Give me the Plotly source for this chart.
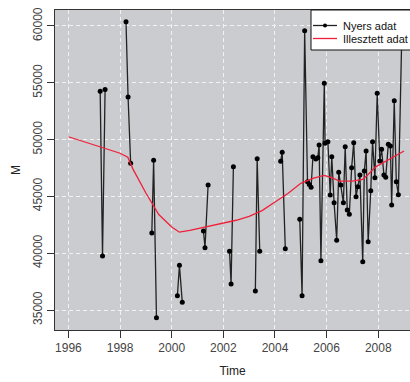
import plotly.graph_objects as go

# Raw data (Nyers adat): time (decimal year) and value; None separates gaps
raw_time = [
    1997.23, 1997.32, 1997.42, None,
    1998.23, 1998.31, 1998.41, None,
    1999.23, 1999.30, 1999.41, None,
    2000.22, 2000.30, 2000.41, None,
    2001.23, 2001.29, 2001.41, None,
    2002.24, 2002.30, 2002.39, None,
    2003.24, 2003.31, 2003.41, None,
    2004.22, 2004.28, 2004.40, None,
    2004.96, 2005.05, 2005.15, 2005.26, 2005.33, 2005.40,
    2005.47, 2005.58, 2005.66, 2005.71, 2005.78, 2005.91, 2005.94,
    2006.05, 2006.14, 2006.20, 2006.29, 2006.39, 2006.47, 2006.55,
    2006.65, 2006.72, 2006.80, 2006.88, 2006.97,
    2007.05, 2007.14, 2007.21, 2007.29, 2007.40, 2007.46, 2007.53,
    2007.61, 2007.71, 2007.78, 2007.87, 2007.96,
    2008.06, 2008.13, 2008.22, 2008.29, 2008.39, 2008.47, 2008.52,
    2008.62, 2008.70, 2008.78, 2008.91,
]
raw_value = [
    54250, 39750, 54400, None,
    60380, 53750, 47910, None,
    41780, 48180, 34320, None,
    36260, 38930, 35680, None,
    41950, 40480, 46000, None,
    40170, 37290, 47620, None,
    36670, 48320, 40170, None,
    48090, 48880, 40390, None,
    42990, 36260, 59590, 46300, 46050, 45800,
    48490, 48290, 48410, 49520, 39340, 54960, 49680,
    49820, 45120, 48490, 44450, 41140, 47120, 46000,
    44450, 49380, 43800, 43420, 47530,
    49730, 44970, 45850, 46880, 39250, 47240, 49000,
    41010, 45500, 49820, 46650, 54080,
    48120, 49150, 46880, 46680, 49590, 49440, 44240,
    53420, 46290, 45150, 59000,
]

# Fitted data (Illesztett adat)
fit_time = [1996.0, 1996.5, 1997.0, 1997.5, 1998.0, 1998.3, 1998.5, 1999.0,
            1999.5, 2000.0, 2000.3, 2000.7, 2001.2, 2001.7, 2002.0, 2002.5,
            2003.0, 2003.5, 2004.0, 2004.5, 2005.0, 2005.5, 2005.9, 2006.2,
            2006.5, 2007.0, 2007.4, 2007.6, 2007.9, 2008.3, 2008.7, 2009.0]
fit_value = [50250, 49900, 49560, 49200, 48800, 48450, 47400, 45300,
             43400, 42300, 41850, 42000, 42250, 42450, 42600, 42900,
             43250, 43750, 44500, 45250, 46150, 46600, 46850, 46650,
             46350, 46350, 46500, 46900, 47600, 48100, 48650, 49000]

x_ticks = [1996, 1998, 2000, 2002, 2004, 2006, 2008]
y_ticks = [35000, 40000, 45000, 50000, 55000, 60000]
legend_labels = ["Nyers adat", "Illesztett adat"]

RAW_COLOR = "#222222"
FIT_COLOR = "#f0203a"

fig = go.Figure()
fig.add_trace(go.Scatter(
    x=raw_time, y=raw_value, name=legend_labels[0], mode="lines+markers",
    connectgaps=False,
    line=dict(color=RAW_COLOR, width=1.3),
    marker=dict(color="#000000", size=5),
))
fig.add_trace(go.Scatter(
    x=fit_time, y=fit_value, name=legend_labels[1], mode="lines",
    line=dict(color=FIT_COLOR, width=1.3),
))

# Legend drawn R-style in the top-right corner (box runs off the right edge)
PL, PW, PT, PH = 55, 355, 10, 320  # plot area in pixels


def px(x):
    return (x - PL) / PW


def py(y):
    return 1 - (y - PT) / PH


shapes = [
    dict(type="rect", xref="paper", yref="paper", x0=px(311), x1=px(430),
         y0=py(50), y1=py(10), fillcolor="white",
         line=dict(color="#111111", width=1), layer="above"),
    dict(type="line", xref="paper", yref="paper", x0=px(313), x1=px(337),
         y0=py(25.5), y1=py(25.5), line=dict(color=RAW_COLOR, width=1.3), layer="above"),
    dict(type="circle", xref="paper", yref="paper", x0=px(323), x1=px(327),
         y0=py(27.5), y1=py(23.5), fillcolor="#000000",
         line=dict(color="#000000", width=0), layer="above"),
    dict(type="line", xref="paper", yref="paper", x0=px(313), x1=px(337),
         y0=py(38.5), y1=py(38.5), line=dict(color=FIT_COLOR, width=1.3), layer="above"),
]
annotations = [
    dict(xref="paper", yref="paper", x=px(341), y=py(25.5), text=legend_labels[0],
         showarrow=False, xanchor="left", yanchor="middle",
         font=dict(size=11, color="#111111")),
    dict(xref="paper", yref="paper", x=px(341), y=py(38.5), text=legend_labels[1],
         showarrow=False, xanchor="left", yanchor="middle",
         font=dict(size=11, color="#111111")),
]

axis_font = dict(family="Liberation Sans, Arial, sans-serif", size=12, color="#444444")
fig.update_layout(
    width=410, height=382,
    margin=dict(l=55, r=0, t=10, b=52),
    paper_bgcolor="white",
    plot_bgcolor="#cacccf",
    font=dict(family="Liberation Sans, Arial, sans-serif", size=12, color="#222222"),
    showlegend=False,
    shapes=shapes,
    annotations=annotations,
    xaxis=dict(
        range=[1995.48, 2009.23], tickvals=x_ticks, ticktext=[str(v) for v in x_ticks],
        ticks="outside", ticklen=7, tickcolor="#333333",
        showline=True, linecolor="#333333", linewidth=1, mirror=True,
        showgrid=True, gridcolor="#f2f2f2", griddash="4px,3px", gridwidth=1,
        zeroline=False, tickfont=axis_font,
        title=dict(text="Time", font=dict(size=12, color="#222222"), standoff=12),
    ),
    yaxis=dict(
        range=[33239, 61408], tickvals=y_ticks, ticktext=[str(v) for v in y_ticks],
        ticks="outside", ticklen=7, tickcolor="#333333", tickangle=-90,
        showline=True, linecolor="#333333", linewidth=1, mirror=False,
        showgrid=True, gridcolor="#f2f2f2", griddash="4px,3px", gridwidth=1,
        zeroline=False, tickfont=axis_font,
        title=dict(text="M", font=dict(size=12, color="#222222"), standoff=8),
    ),
)

fig.write_html("out.html")
